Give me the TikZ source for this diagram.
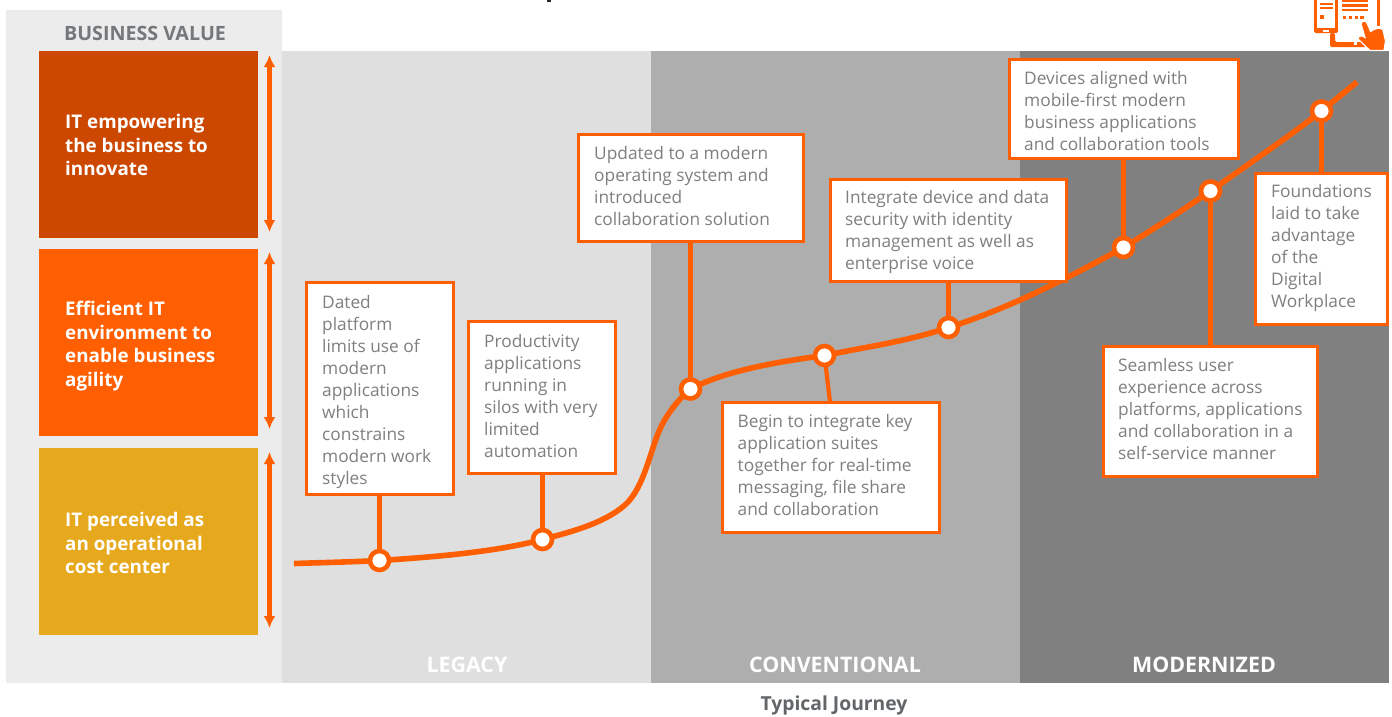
\documentclass[tikz,border=0pt]{standalone}
\usepackage{fontspec}
\setmainfont{Open Sans}
\usetikzlibrary{arrows.meta}
\definecolor{org}{HTML}{FF5F00}
\definecolor{txt}{HTML}{7F7F7F}
\definecolor{hdr}{HTML}{75787B}
\definecolor{panelL}{HTML}{ECECEC}
\definecolor{bandA}{HTML}{DFDFDF}
\definecolor{bandB}{HTML}{AEAEAE}
\definecolor{bandC}{HTML}{808080}
\definecolor{valA}{HTML}{CC4700}
\definecolor{valC}{HTML}{E6A81C}
\tikzset{
  x=1pt,y=-1pt,
  callout/.style={draw=org,line width=2.8pt,fill=white,rectangle,inner sep=0pt,outer sep=0pt,anchor=north west},
  calltext/.style={anchor=north west,text=txt,font=\fontsize{17.3}{22}\selectfont,align=left,inner sep=0pt},
  valuebox/.style={rectangle,inner sep=0pt,anchor=north west,minimum width=219pt,minimum height=187pt},
  valuetext/.style={anchor=north west,text=white,font=\fontsize{18.8}{23.7}\selectfont\bfseries,align=left,inner sep=0pt},
  stage/.style={text=white,font=\fontsize{21.4}{24}\selectfont\bfseries,anchor=center,inner sep=0pt},
  dbl/.style={{Latex[length=12pt,width=12pt]}-{Latex[length=12pt,width=12pt]},draw=org,line width=4.2pt},
  lnk/.style={draw=org,line width=4.2pt},
  curve/.style={draw=org,line width=5.6pt},
  dotnode/.style={circle,draw=org,line width=4.6pt,fill=white,minimum size=19pt,inner sep=0pt,outer sep=0pt},
}
\begin{document}
\begin{tikzpicture}
\useasboundingbox (0,0) rectangle (1392,716);
\fill[white] (0,0) rectangle (1392,716);
\fill[black!85] (547,0) rectangle (551,2);
% panels
\fill[panelL] (6,10) rectangle (282,683);
\fill[bandA] (282,51) rectangle (651,683);
\fill[bandB] (651,51) rectangle (1020,683);
\fill[bandC] (1020,51) rectangle (1389,683);
\node[anchor=center,text=hdr,font=\fontsize{19.7}{24}\selectfont\bfseries,inner sep=0pt] (bv) at (145,33.5) {BUSINESS VALUE};
% value boxes
\node[valuebox,fill=valA] (v1) at (39,51) {};
\node[valuebox,fill=org] (v2) at (39,249) {};
\node[valuebox,fill=valC] (v3) at (39,448) {};
\node[valuetext] (t1) at (65,114) {IT empowering\\the business to\\innovate};
\node[valuetext] (t2) at (65,301) {Efficient IT\\environment to\\enable business\\agility};
\node[valuetext] (t3) at (65,512) {IT perceived as\\an operational\\cost center};
\coordinate (a1) at (269.5,55); \coordinate (b1) at (269.5,232);
\coordinate (a2) at (269.5,252); \coordinate (b2) at (269.5,429);
\coordinate (a3) at (269.5,452); \coordinate (b3) at (269.5,628);
\draw[dbl] (a1) -- (b1);
\draw[dbl] (a2) -- (b2);
\draw[dbl] (a3) -- (b3);
% stage labels
\node[stage] (s1) at (467,665) {LEGACY};
\node[stage] (s2) at (835,665) {CONVENTIONAL};
\node[stage] (s3) at (1204,665) {MODERNIZED};
\node[anchor=center,text=hdr!85!black,font=\fontsize{19.3}{24}\selectfont\bfseries,inner sep=0pt] (tj) at (834,705.5) {Typical Journey};
% curve
\coordinate (c0) at (294,563.5);
\coordinate (p1) at (379.5,560.5);
\coordinate (p2) at (542.5,539.5);
\coordinate (p3) at (690.5,389);
\coordinate (p4) at (824.5,355.5);
\coordinate (p5) at (948.5,327.5);
\coordinate (p6) at (1123.5,247.5);
\coordinate (p7) at (1210.5,191);
\coordinate (p8) at (1321.5,111);
\coordinate (c9) at (1357,82);
\draw[curve,line cap=butt]
  (c0) .. controls (325,562.5) and (350,562) .. (p1)
  .. controls (435,557) and (495,552) .. (p2)
  .. controls (570,532) and (603,524) .. (625,505)
  .. controls (646,486) and (651,444) .. (663,423)
  .. controls (670,410) and (680,398) .. (p3)
  .. controls (725,371) and (775,362) .. (p4)
  .. controls (865,347) and (905,342) .. (p5)
  .. controls (1010,308) and (1070,277) .. (p6)
  .. controls (1155,228) and (1180,212) .. (p7)
  .. controls (1250,163) and (1290,136) .. (p8)
  -- (c9);
% boxes
\node[callout,minimum width=147pt,minimum height=212pt] (n1) at (306.5,282.5) {};
\node[callout,minimum width=147pt,minimum height=152pt] (n2) at (468.5,321.5) {};
\node[callout,minimum width=225pt,minimum height=107pt] (n3) at (578.5,134.5) {};
\node[callout,minimum width=217pt,minimum height=130pt] (n4) at (722.5,402.5) {};
\node[callout,minimum width=236pt,minimum height=102pt] (n5) at (830.5,179.5) {};
\node[callout,minimum width=229pt,minimum height=99pt] (n6) at (1009.5,59.5) {};
\node[callout,minimum width=214pt,minimum height=130pt] (n7) at (1103.5,346.5) {};
\node[callout,minimum width=132pt,minimum height=151pt] (n8) at (1255.5,173.5) {};
% connectors
\draw[lnk] (n1.south -| p1) -- (p1);
\draw[lnk] (n2.south -| p2) -- (p2);
\draw[lnk] (n3.south -| p3) -- (p3);
\coordinate (e4) at (830,402);
\draw[lnk] (e4) -- (p4);
\draw[lnk] (n5.south -| p5) -- (p5);
\draw[lnk] (n6.south -| p6) -- (p6);
\draw[lnk] (n7.north -| p7) -- (p7);
\draw[lnk] (n8.north -| p8) -- (p8);
% circles
\foreach \p in {p1,p2,p3,p4,p5,p6,p7,p8} \node[dotnode] (d\p) at (\p) {};
% box text
\node[calltext] (x1) at (322,295.5) {Dated\\platform\\limits use of\\modern\\applications\\which\\constrains\\modern work\\styles};
\node[calltext] (x2) at (484,334.5) {Productivity\\applications\\running in\\silos with very\\limited\\automation};
\node[calltext] (x3) at (594,146) {Updated to a modern\\operating system and\\introduced\\collaboration solution};
\node[calltext] (x4) at (737.5,414.5) {Begin to integrate key\\application suites\\together for real-time\\messaging, file share\\and collaboration};
\node[calltext] (x5) at (845,190.5) {Integrate device and data\\security with identity\\management as well as\\enterprise voice};
\node[calltext] (x6) at (1024,71) {Devices aligned with\\mobile-first modern\\business applications\\and collaboration tools};
\node[calltext] (x7) at (1118,358.5) {Seamless user\\experience across\\platforms, applications\\and collaboration in a\\self-service manner};
\node[calltext] (x8) at (1271,184) {Foundations\\laid to take\\advantage\\of the\\Digital\\Workplace};
% icon
\draw[org,line width=3pt,line join=round] (1315.5,-2) -- (1315.5,30) -- (1336.5,30) -- (1336.5,-2);
\fill[org,rounded corners=1.5pt] (1314,28) rectangle (1338,33);
\fill[white] (1323,29.5) rectangle (1329,31.5);
\fill[org] (1320,2.5) rectangle (1333,5);
\fill[org] (1320,7) rectangle (1333,9);
\fill[org] (1320,15) rectangle (1323.5,18.5);
\fill[org] (1342,0) rectangle (1368,1.5);
\fill[org] (1342,4) rectangle (1368,6.5);
\fill[org] (1342,9) rectangle (1368,11);
\foreach \q in {1342.5,1348.5,1354.5,1360} \fill[org] (\q,15.5) rectangle ++(3.5,3.5);
\fill[org] (1377,0) rectangle (1380,25.5);
\fill[org,rounded corners=2pt] (1330,33) -- (1330,47) -- (1368,47) -- (1368,42) -- (1335,42) -- (1335,33) -- cycle;
\fill[white] (1353.5,41.5) rectangle (1356.5,45);
\filldraw[fill=org,draw=white,line width=1.2pt] (1361,24) .. controls (1362,20) and (1366,20) .. (1367.5,24) -- (1370.5,31.5)
  .. controls (1375,28) and (1381,27) .. (1383,30) -- (1385.5,41) -- (1384,50.5) -- (1370,50.5)
  -- (1358,39) .. controls (1358,35.5) and (1362,35) .. (1365,37.5) -- cycle;
\end{tikzpicture}
\end{document}
